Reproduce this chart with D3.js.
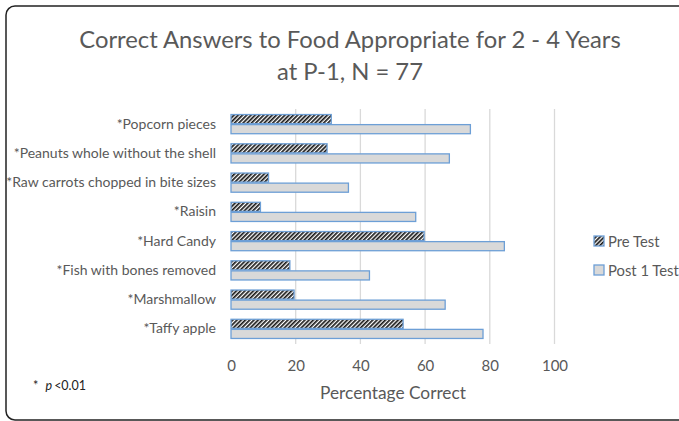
<!DOCTYPE html>
<html><head><meta charset="utf-8">
<script src="https://cdn.jsdelivr.net/npm/d3@7"></script>
<style>html,body{margin:0;padding:0;background:#fff;overflow:hidden}</style>
</head><body>
<svg id="chart" width="679" height="421"></svg>
<script>
const categories = ["*Popcorn pieces","*Peanuts whole without the shell","*Raw carrots chopped in bite sizes","*Raisin","*Hard Candy","*Fish with bones removed","*Marshmallow","*Taffy apple"];
const preTest = [31, 29.7, 11.6, 9.1, 59.7, 18.2, 19.5, 53.2];
const postTest = [74, 67.5, 36.3, 57.1, 84.5, 42.8, 66.2, 77.9];
const seriesNames = ["Pre Test","Post 1 Test"];
const xTicks = [0,20,40,60,80,100];

const svg = d3.select("#chart");
const font = "Lato, 'Open Sans', sans-serif";
const grey = "#595959";

const defs = svg.append("defs");
const pat = defs.append("pattern").attr("id","hatch").attr("patternUnits","userSpaceOnUse")
  .attr("width",3).attr("height",3).attr("patternTransform","rotate(45)");
pat.append("rect").attr("width",3).attr("height",3).attr("fill","#fff");
pat.append("rect").attr("width",1.7).attr("height",3).attr("fill","#1a1a1a");

svg.append("rect").attr("x",6).attr("y",6).attr("width",720).attr("height",414)
  .attr("rx",9).attr("fill","#fff").attr("stroke","#222").attr("stroke-width",1.5);

const x = d3.scaleLinear().domain([0,100]).range([231,554.5]);
const y = d3.scaleBand().domain(categories).range([109.5,343.5]).paddingInner(0.31).paddingOuter(0.155);
const ys = d3.scaleBand().domain(seriesNames).range([0,y.bandwidth()]);

svg.append("g").selectAll("line").data(xTicks.slice(1)).join("line")
  .attr("x1",d=>x(d)).attr("x2",d=>x(d)).attr("y1",109).attr("y2",344)
  .attr("stroke","#d9d9d9").attr("stroke-width",1.3);

const barStroke = "#6d9fd6";
svg.append("g").selectAll("rect").data(categories).join("rect")
  .attr("x",x(0)).attr("y",d=>y(d)+ys("Pre Test")+0.5)
  .attr("width",(d,i)=>x(preTest[i])-x(0)).attr("height",ys.bandwidth()-1)
  .attr("fill","url(#hatch)").attr("stroke",barStroke).attr("stroke-width",1.3);
svg.append("g").selectAll("rect").data(categories).join("rect")
  .attr("x",x(0)).attr("y",d=>y(d)+ys("Post 1 Test")+0.5)
  .attr("width",(d,i)=>x(postTest[i])-x(0)).attr("height",ys.bandwidth()-1)
  .attr("fill","#d9d9d9").attr("stroke",barStroke).attr("stroke-width",1.3);

const yAxis = svg.append("g").attr("transform","translate(231,0)")
  .call(d3.axisLeft(y).tickSize(0).tickPadding(15));
yAxis.select(".domain").remove();
yAxis.selectAll("text").attr("font-family",font).attr("font-size",14).attr("fill",grey);

const xAxis = svg.append("g").attr("transform","translate(0,344)")
  .call(d3.axisBottom(x).tickValues(xTicks).tickSize(0).tickPadding(16));
xAxis.select(".domain").remove();
xAxis.selectAll("text").attr("font-family",font).attr("font-size",15).attr("fill",grey);

svg.append("text").attr("x",393).attr("y",399).attr("text-anchor","middle")
  .attr("font-family",font).attr("font-size",17.3).attr("fill",grey).text("Percentage Correct");

svg.append("text").attr("x",350).attr("y",48).attr("text-anchor","middle")
  .attr("font-family",font).attr("font-size",23.8).attr("fill",grey).text("Correct Answers to Food Appropriate for 2 - 4 Years");
svg.append("text").attr("x",350).attr("y",80).attr("text-anchor","middle")
  .attr("font-family",font).attr("font-size",23.8).attr("fill",grey).text("at P-1, N = 77");

const note = svg.append("text").attr("x",33).attr("y",390).attr("font-family",font).attr("font-size",12.5).attr("fill","#222");
note.append("tspan").text("* ");
note.append("tspan").attr("dx",4).attr("font-style","italic").text("p");
note.append("tspan").attr("dx",2).text("<0.01");

const leg = svg.append("g");
const legY = [241, 270];
const legFill = ["url(#hatch)","#d9d9d9"];
seriesNames.forEach((s,i)=>{
  leg.append("rect").attr("x",594).attr("y",legY[i]-5).attr("width",10).attr("height",10)
    .attr("fill",legFill[i]).attr("stroke",barStroke).attr("stroke-width",1.3);
  leg.append("text").attr("x",608).attr("y",legY[i]+5.5).attr("font-family",font)
    .attr("font-size",14.8).attr("fill",grey).text(s);
});
</script>
</body></html>
